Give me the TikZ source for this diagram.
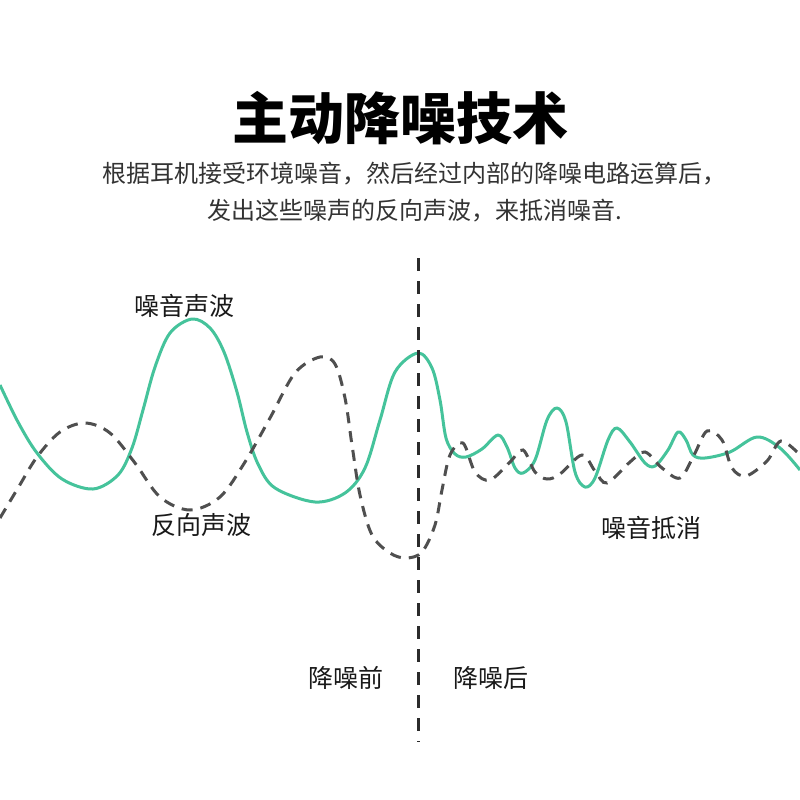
\documentclass[tikz,border=0pt]{standalone}
\usepackage{fontspec}
\newfontfamily\cjk{Noto Sans CJK SC}
\newfontfamily\cjkheavy{Noto Sans CJK SC Black}
\begin{document}
\begin{tikzpicture}[x=1pt, y=-1pt]
    % Define colours
    \definecolor{waveColour}{HTML}{45C39B}
    \definecolor{antiColour}{HTML}{4F4F4F}
    \definecolor{lineColour}{HTML}{2B2B2B}
    \definecolor{textColour}{HTML}{333333}

    \tikzset{
        noisewave/.style={waveColour, line width=3pt, line join=round},
        antiwave/.style={antiColour, line width=3pt, dash pattern=on 11pt off 8pt},
        divider/.style={lineColour, line width=3pt, dash pattern=on 13pt off 10pt},
        wavelabel/.style={font=\cjk\fontsize{25}{30}\selectfont, text=black!90, inner sep=0pt},
        subtitle/.style={font=\cjk\fontsize{24}{30}\selectfont, text=textColour, inner sep=0pt, anchor=west}
    }

    % Fix the page
    \useasboundingbox[fill=white] (0,0) rectangle (800,800);

    % Title and description
    \node[font=\cjkheavy\fontsize{56}{60}\selectfont, inner sep=0pt] (title) at (400,118) {主动降噪技术};
    \node[subtitle] (descOne) at (102,174) {根据耳机接受环境噪音，然后经过内部的降噪电路运算后，};
    \node[subtitle] (descTwo) at (207,211) {发出这些噪声的反向声波，来抵消噪音.};

    % Draw the noise wave
    \draw[noisewave] plot[smooth, tension=0.55] coordinates {
        (0,385) (18,422) (37,453) (62,479) (93,489) (118,475) (132,448)
        (143,410) (155,367) (170,333) (192,319) (210,328) (224,352) (237,392)
        (247,432) (258,464) (275,488) (315,502) (345,493) (365,468) (380,420)
        (395,372) (418,353) (432,368) (440,400) (446,438) (455,454) (466,457)
        (482,449) (498,435) (507,447) (515,468) (523,473) (535,460) (547,420)
        (557,408) (566,422) (575,472) (585,487) (595,478) (608,440) (617,428)
        (630,442) (645,463) (655,466) (668,450) (678,432) (686,440) (693,455)
        (705,458) (730,452) (757,437) (780,448) (800,470)
    };

    % Draw the opposite wave
    \draw[antiwave] plot[smooth, tension=0.55] coordinates {
        (0,518) (18,488) (37,457) (60,432) (85,423) (110,433) (135,463)
        (160,497) (190,510) (220,497) (245,462) (270,418) (295,373) (320,357)
        (335,364) (345,398) (352,445) (360,495) (372,535) (390,553) (406,558)
        (422,552) (435,525) (442,490) (450,455) (463,443) (475,472) (490,480)
        (510,462) (523,450) (535,472) (547,479) (560,474) (582,455) (595,471)
        (607,483) (630,462) (645,452) (662,468) (680,478) (694,455) (707,431)
        (722,440) (732,468) (746,476) (767,461) (781,441) (800,455)
    };

    % Draw the divider
    \coordinate (divTop) at (418,258);
    \coordinate (divBottom) at (418,742);
    \draw[divider] (divTop) -- (divBottom);

    % Label the waves
    \node[wavelabel] (noiseLabel) at (184,306) {噪音声波};
    \node[wavelabel] (antiLabel) at (201,525) {反向声波};
    \node[wavelabel] (cancelLabel) at (651,528) {噪音抵消};
    \node[wavelabel] (beforeLabel) at (346,678) {降噪前};
    \node[wavelabel] (afterLabel) at (491,678) {降噪后};
\end{tikzpicture}
\end{document}
